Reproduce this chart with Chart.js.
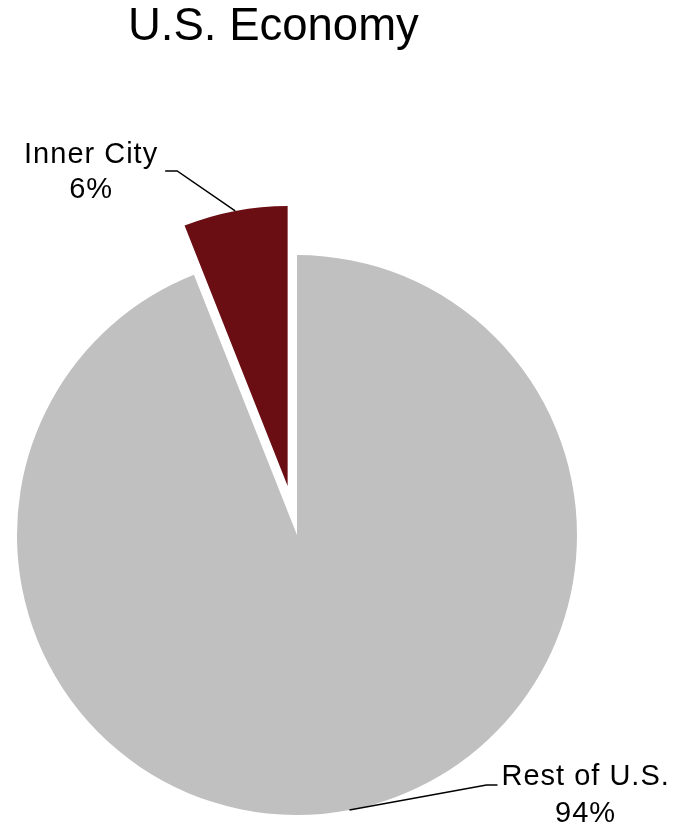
<!DOCTYPE html>
<html><head><meta charset="utf-8">
<script src="https://cdn.jsdelivr.net/npm/chart.js@4.4.0/dist/chart.umd.min.js"></script>
<style>html,body{margin:0;padding:0;background:#fff;}</style>
</head><body>
<canvas id="c" width="690" height="830"></canvas>
<script>
const categories = ['Rest of U.S.', 'Inner City'];
const shares = [94, 6];
const valueLabels = ['94%', '6%'];
const sliceColors = ['#C0C0C0', '#6B0E14'];
const explodeDistance = [0, 50];
const titleText = 'U.S. Economy';

const FONT = "'Liberation Sans', Arial, Helvetica, sans-serif";

const explodePlugin = {
  id: 'explodeSlices',
  afterDatasetUpdate(chart, args) {
    args.meta.data.forEach((arc, i) => {
      const d = explodeDistance[i] || 0;
      if (!d) return;
      const mid = (arc.startAngle + arc.endAngle) / 2;
      arc.x += Math.cos(mid) * d;
      arc.y += Math.sin(mid) * d;
    });
  }
};

const leaderPlugin = {
  id: 'leaderLabels',
  afterDatasetsDraw(chart, args, opts) {
    const ctx = chart.ctx;
    const meta = chart.getDatasetMeta(0);
    ctx.save();
    ctx.font = opts.fontSize + 'px ' + FONT;
    if ('letterSpacing' in ctx) ctx.letterSpacing = opts.letterSpacing;
    ctx.fillStyle = '#000';
    ctx.strokeStyle = '#000';
    ctx.lineWidth = 1.5;
    meta.data.forEach((arc, i) => {
      const c = opts.items[i];
      const mid = (arc.startAngle + arc.endAngle) / 2;
      const ax = arc.x + Math.cos(mid) * arc.outerRadius;
      const ay = arc.y + Math.sin(mid) * arc.outerRadius;
      const ex = ax + c.elbow[0], ey = ay + c.elbow[1];
      const hx = ex + c.tail;
      ctx.beginPath();
      ctx.moveTo(ax, ay);
      ctx.lineTo(ex, ey);
      ctx.lineTo(hx, ey);
      ctx.stroke();
      const lines = [categories[i], valueLabels[i]];
      const w = Math.max(...lines.map(t => ctx.measureText(t).width));
      const cx = c.tail < 0 ? hx - c.gap - w / 2 : hx + c.gap + w / 2;
      ctx.textAlign = 'center';
      ctx.textBaseline = 'alphabetic';
      ctx.fillText(lines[0], cx, ey + c.base[0]);
      ctx.fillText(lines[1], cx, ey + c.base[1]);
    });
    ctx.restore();
  }
};

new Chart(document.getElementById('c'), {
  type: 'pie',
  data: {
    labels: categories,
    datasets: [{
      data: shares,
      backgroundColor: sliceColors,
      borderWidth: 0,
      hoverOffset: 0
    }]
  },
  options: {
    responsive: false,
    animation: false,
    radius: 280,
    layout: { padding: { left: 128, right: 224, top: 0, bottom: 0 } },
    plugins: {
      legend: { display: false },
      tooltip: { enabled: false },
      title: {
        display: true,
        text: titleText,
        align: 'start',
        color: '#000',
        font: { family: FONT, size: 45.5, weight: 'normal', lineHeight: 1.2 },
        padding: { top: 0.5, bottom: 185 }
      },
      leaderLabels: {
        fontSize: 29,
        letterSpacing: '1px',
        items: [
          { elbow: [137, -25], tail: 11, gap: 4, base: [0, 37] },
          { elbow: [-58, -40], tail: -12, gap: 7, base: [-8, 27] }
        ]
      }
    }
  },
  plugins: [explodePlugin, leaderPlugin]
});
</script>
</body></html>
